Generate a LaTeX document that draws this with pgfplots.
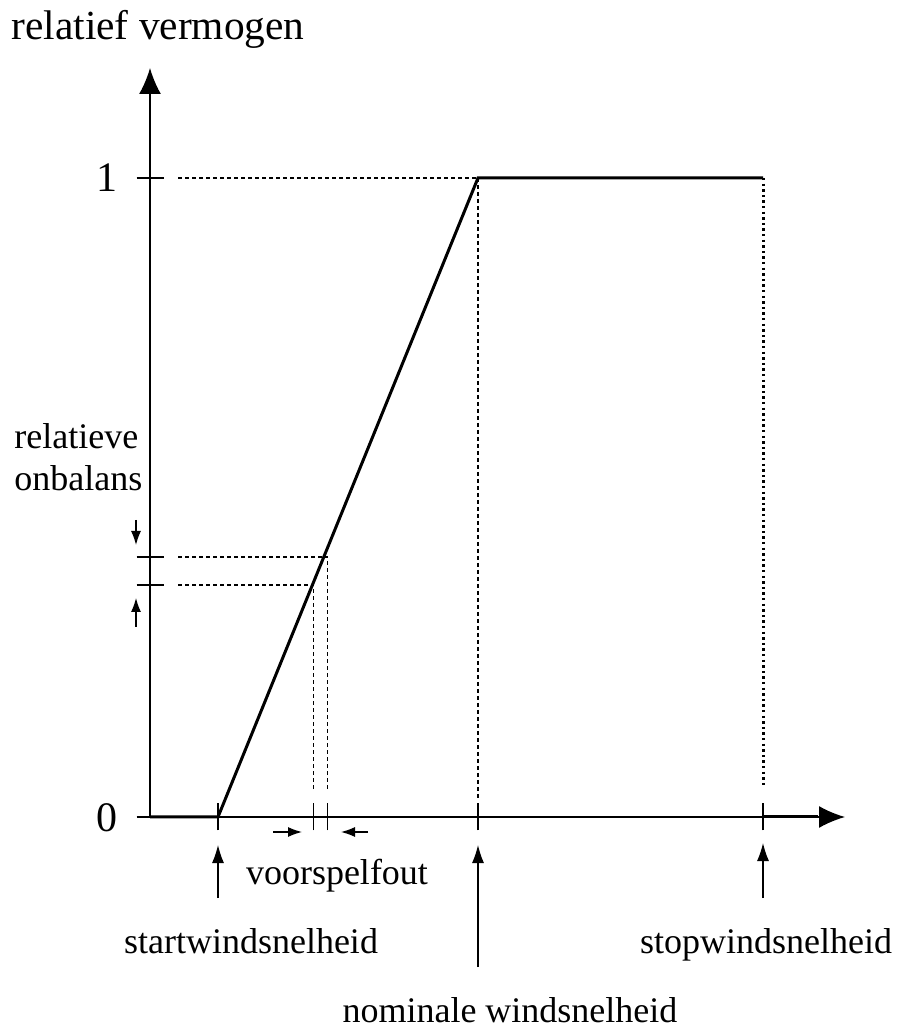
\documentclass[border=0pt]{standalone}
\usepackage{fontspec}
\setmainfont{Liberation Serif}
\usepackage{pgfplots}
\pgfplotsset{compat=1.18}
\usetikzlibrary{arrows.meta}

% helper styles
\tikzset{
  guide/.style={line width=0.6pt, dash pattern=on 2pt off 1.5pt},
  small arrow/.style={line width=0.6pt, -{Latex[length=9pt,width=6pt]}},
  tiny arrow/.style={line width=0.6pt, -{Latex[length=7pt,width=5pt]}},
  lbl/.style={font=\fontsize{18}{21}\selectfont, inner sep=0pt},
}

\begin{document}
\begin{tikzpicture}
\begin{axis}[
    scale only axis,
    width=347.5pt, height=374.5pt,
    xmin=0, xmax=695,
    ymin=0, ymax=1.1721,
    axis lines=left,
    x axis line style={line width=0.8pt, -{Latex[length=13pt,width=11pt]}},
    y axis line style={line width=0.8pt, -{Latex[length=13pt,width=11pt]}},
    xtick={68,163.7,177.7,328,613},
    ytick={0,0.3631,0.4069,1},
    xticklabel=\empty,
    yticklabel=\empty,
    tick align=center,
    major tick length=13.5pt,
    tick style={line width=0.7pt, black},
    clip=false,
]
% power curve
\addplot[line width=1.5pt] coordinates {(0,0) (68,0) (328,1) (613,1)};
\addplot[line width=1.5pt, dash pattern=on 1.2pt off 1.6pt] coordinates {(613,1) (613,0.045)};
\addplot[line width=1.5pt] coordinates {(613,0) (668,0)};
% guide lines
\addplot[guide] coordinates {(28,1) (328,1)};
\addplot[guide] coordinates {(328,1) (328,0.027)};
\addplot[guide] coordinates {(28,0.4069) (177.7,0.4069) (177.7,0.042)};
\addplot[guide] coordinates {(28,0.3631) (163.7,0.3631) (163.7,0.042)};
\end{axis}

% annotations in pixel units of the reference
\begin{scope}[x=0.5pt, y=-0.5pt, shift={(-150,-817)}]
\path (0,0) rectangle (899,1028);
\node[anchor=base, inner sep=0pt, font=\fontsize{20.7}{24}\selectfont] at (158,40) {relatief vermogen};
\node[anchor=base, inner sep=0pt, font=\fontsize{21}{24}\selectfont] at (107,192) {1};
\node[anchor=base, inner sep=0pt, font=\fontsize{21}{24}\selectfont] at (107,832) {0};
\node[lbl, anchor=base west] at (14,449) {relatieve};
\node[lbl, anchor=base west] at (14,491) {onbalans};
\node[lbl, anchor=base] at (337,885) {voorspelfout};
\node[lbl, anchor=base] at (251,953) {startwindsnelheid};
\node[lbl, anchor=base] at (766,953) {stopwindsnelheid};
\node[lbl, anchor=base] at (510,1022) {nominale windsnelheid};
\draw[small arrow] (218,898) -- (218,845);
\draw[small arrow] (478,967) -- (478,845);
\draw[small arrow] (763,898) -- (763,843);
\draw[tiny arrow] (273,832) -- (302,832);
\draw[tiny arrow] (368,832) -- (341,832);
\draw[tiny arrow] (136,520) -- (136,545);
\draw[tiny arrow] (136,627) -- (136,598);
\end{scope}
\end{tikzpicture}
\end{document}
